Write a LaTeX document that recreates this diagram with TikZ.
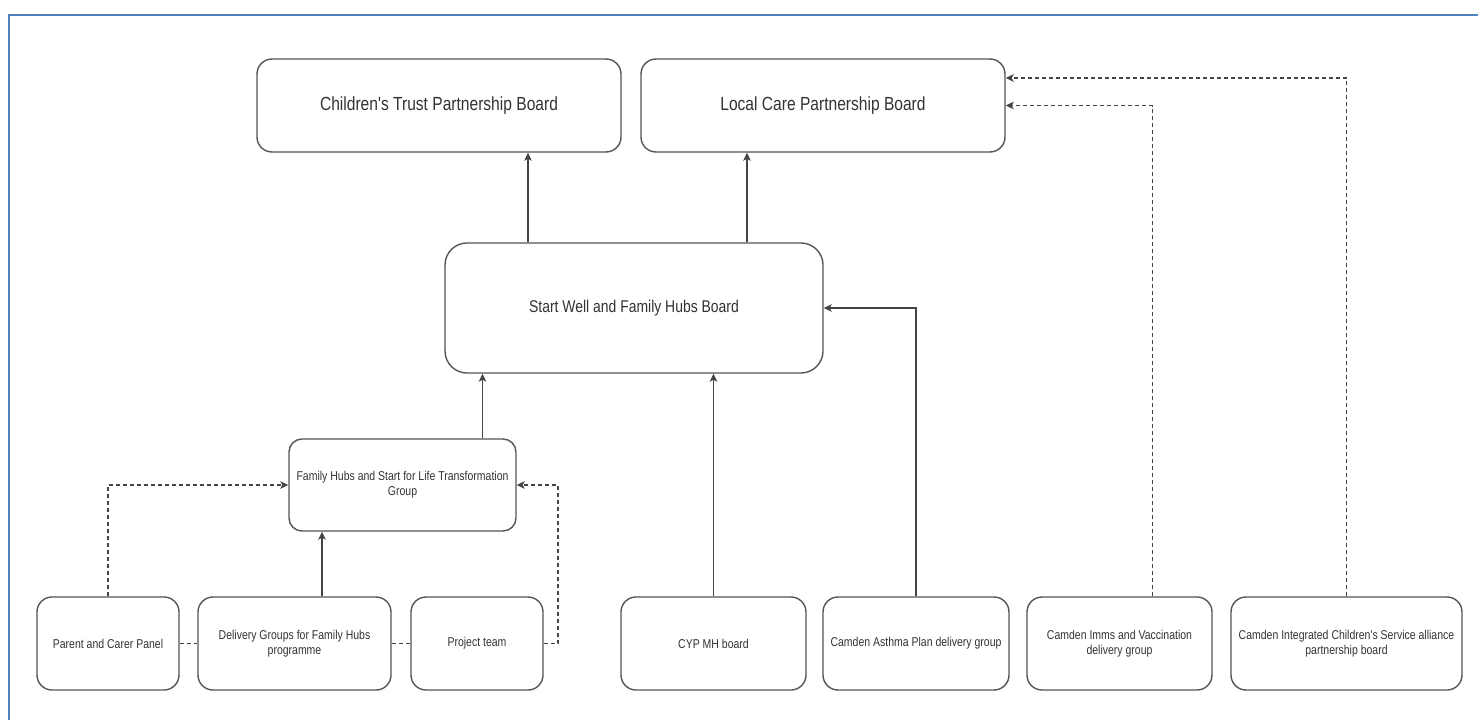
\documentclass[tikz,border=0pt]{standalone}
\usepackage{fontspec}
\newfontfamily\narrow{Liberation Sans}[FakeStretch=0.82]
\usetikzlibrary{arrows.meta}
\definecolor{frameblue}{HTML}{4F81BD}
\definecolor{boxline}{HTML}{555555}
\definecolor{txt}{HTML}{333333}
\definecolor{conn}{HTML}{444444}
\begin{document}
\begin{tikzpicture}[x=1pt,y=-1pt,
  box/.style={draw=boxline, line width=1.4pt, fill=white, rounded corners=#1,
    text=txt, align=center, inner sep=0pt},
  box/.default=15pt,
  bigfont/.style={font=\narrow\fontsize{19}{23}\selectfont},
  midfont/.style={font=\narrow\fontsize{17}{20}\selectfont},
  smallfont/.style={font=\narrow\fontsize{12.8}{15}\selectfont},
  arr/.style={draw=conn, line width=1.3pt, -{Stealth[length=8pt,width=7.5pt,inset=2pt]}},
  darr/.style={arr, dash pattern=on 4pt off 3pt},
  dline/.style={draw=conn, line width=1.3pt, dash pattern=on 4pt off 3pt}
]
\useasboundingbox (0,0) rectangle (1478,720);
\fill[white] (0,0) rectangle (1478,720);
\draw[frameblue, line width=2.6pt] (9,725) -- (9,15) -- (1485,15);

% top boxes
\node[box, bigfont, minimum width=364pt, minimum height=93pt] (CT) at (439,105.5) {Children's Trust Partnership Board};
\node[box, bigfont, minimum width=364pt, minimum height=93pt] (LC) at (823,105.5) {Local Care Partnership Board};
% middle board
\node[box=22pt, midfont, minimum width=378pt, minimum height=130pt] (SW) at (634,308) {Start Well and Family Hubs Board};
% transformation group
\node[box=13pt, smallfont, minimum width=227pt, minimum height=92pt] (FH) at (402.5,485) {Family Hubs and Start for Life Transformation\\Group};
% bottom row
\node[box, smallfont, minimum width=142pt, minimum height=93pt] (PC) at (108,643.5) {Parent and Carer Panel};
\node[box, smallfont, minimum width=193pt, minimum height=93pt] (DG) at (294.5,643.5) {Delivery Groups for Family Hubs\\programme};
\node[box, smallfont, minimum width=132pt, minimum height=93pt] (PT) at (477,643.5) {Project team};
\node[box, smallfont, minimum width=185pt, minimum height=93pt] (CY) at (713.5,643.5) {CYP MH board};
\node[box, smallfont, minimum width=186pt, minimum height=93pt] (AS) at (916,643.5) {Camden Asthma Plan delivery group};
\node[box, smallfont, minimum width=185pt, minimum height=93pt] (IM) at (1119.5,643.5) {Camden Imms and Vaccination\\delivery group};
\node[box, smallfont, minimum width=231pt, minimum height=93pt] (IC) at (1346.5,643.5) {Camden Integrated Children's Service alliance\\partnership board};

% helper coordinates
\coordinate (c1) at (528,0);
\coordinate (c2) at (747,0);
\coordinate (c3) at (482.5,0);
\coordinate (c4) at (322,0);
\coordinate (c5) at (558,0);
\coordinate (c6) at (1152.5,0);
\coordinate (c7) at (0,78);

% connectors
\draw[arr] (SW.north -| c1) -- (CT.south -| c1);
\draw[arr] (SW.north -| c2) -- (LC.south -| c2);
\draw[arr] (FH.north -| c3) -- (SW.south -| c3);
\draw[arr] (CY.north) -- (SW.south -| CY.north);
\draw[arr] (AS.north) |- (SW.east);
\draw[arr] (DG.north -| c4) -- (FH.south -| c4);
\draw[darr] (PC.north) |- (FH.west);
\draw[darr] (PT.east) -- (PT.east -| c5) |- (FH.east);
\draw[dline] (PC.east) -- (DG.west);
\draw[dline] (DG.east) -- (PT.west);
\draw[darr] (IM.north -| c6) |- (LC.east);
\draw[darr] (IC.north) |- (LC.east |- c7);
\end{tikzpicture}
\end{document}
